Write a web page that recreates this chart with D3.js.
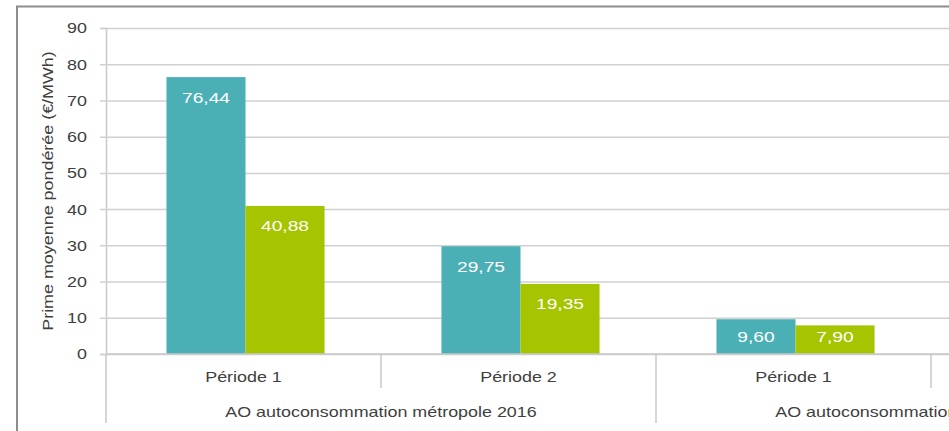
<!DOCTYPE html>
<html>
<head>
<meta charset="utf-8">
<script src="https://cdn.jsdelivr.net/npm/d3@7"></script>
<style>
    body { margin: 0; background: #fff; }
    text { font-family: "Liberation Sans", Arial, sans-serif; fill: #404040; }
</style>
</head>
<body>
<div id="chart"></div>
<script>
// data
const groups = ["AO autoconsommation métropole 2016", "AO autoconsommation métropole 2017"];
const periods = ["Période 1", "Période 2", "Période 1", "Période 2"];
const periodGroup = [0, 0, 1, 1];
const seriesNames = ["Série 1", "Série 2"];
const seriesA = [76.44, 29.75, 9.60, null];
const seriesB = [40.88, 19.35, 7.90, null];
const yTicks = [0, 10, 20, 30, 40, 50, 60, 70, 80, 90];
const colors = ["#4bb0b6", "#a6c400"];

const fmt = d3.format(".2f");
const frNum = v => fmt(v).replace(".", ",");
const stretch = 1.28;   // the source font is wide

let width = 949, height = 431;
let margin = { left: 106, top: 28, bottom: 77 };
let plotBottom = height - margin.bottom;

let svg = d3.select("#chart")
    .append("svg")
    .attr("width", width)
    .attr("height", height);

// outer frame (cropped)
svg.append("path")
    .attr("d", `M17,${height} L17,6.5 L${width},6.5`)
    .attr("fill", "none")
    .attr("stroke", "#8c8c8c")
    .attr("stroke-width", 2);

// scales
let idx = d3.range(periods.length);
let xScale = d3.scaleBand()
    .domain(idx)
    .range([margin.left, margin.left + 275 * periods.length])
    .padding(0);
let xInner = d3.scaleBand()
    .domain([0, 1])
    .range([0, xScale.bandwidth()])
    .paddingInner(0)
    .paddingOuter(0.74);
let yScale = d3.scaleLinear()
    .domain([0, 90])
    .range([plotBottom, margin.top]);

// grid + y axis
let yAxis = svg.append("g")
    .attr("transform", `translate(${margin.left},0)`)
    .call(d3.axisLeft(yScale).tickValues(yTicks).tickSize(6).tickFormat(d3.format("d")));
yAxis.select(".domain").attr("stroke", "#c8c8c8").attr("stroke-width", 1.5);
yAxis.selectAll(".tick line")
    .attr("x1", -6)
    .attr("x2", width)
    .attr("stroke", "#d0d0d0")
    .attr("stroke-width", 1.5);
yAxis.selectAll(".tick text")
    .attr("x", 0)
    .attr("dy", "0.35em")
    .attr("font-size", "14px")
    .attr("fill", "#404040")
    .attr("text-anchor", "end")
    .attr("transform", `translate(-19,0) scale(${stretch},1)`);

// y title
svg.append("text")
    .attr("text-anchor", "middle")
    .attr("font-size", "14px")
    .attr("transform", `translate(53,191) rotate(-90) scale(${stretch},1)`)
    .text("Prime moyenne pondérée (€/MWh)");

// bars
let barData = [];
idx.forEach(i => {
    [seriesA[i], seriesB[i]].forEach((v, s) => {
        if (v !== null) barData.push({ i: i, s: s, v: v });
    });
});

svg.selectAll("rect.bar")
    .data(barData)
    .enter()
    .append("rect")
    .attr("class", "bar")
    .attr("x", d => xScale(d.i) + xInner(d.s) + 2)
    .attr("width", xInner.bandwidth())
    .attr("y", d => yScale(d.v))
    .attr("height", d => plotBottom - yScale(d.v))
    .attr("fill", d => colors[d.s]);

svg.selectAll("text.val")
    .data(barData)
    .enter()
    .append("text")
    .attr("class", "val")
    .attr("text-anchor", "middle")
    .attr("font-size", "15px")
    .style("fill", "#fff")
    .attr("transform", d => {
        let cx = xScale(d.i) + xInner(d.s) + 2 + xInner.bandwidth() / 2;
        let cy = Math.min(yScale(d.v) + 20, plotBottom - 18);
        return `translate(${cx},${cy + 5.5}) scale(${stretch},1)`;
    })
    .text(d => frNum(d.v));

// x axis line
svg.append("line")
    .attr("x1", margin.left)
    .attr("x2", width)
    .attr("y1", plotBottom)
    .attr("y2", plotBottom)
    .attr("stroke", "#c8c8c8")
    .attr("stroke-width", 1.5);

// category separators: short between periods, long between groups
idx.concat([periods.length]).forEach(i => {
    let x = i < periods.length ? xScale(i) : xScale.range()[1];
    let isGroupEdge = i === 0 || i === periods.length || periodGroup[i] !== periodGroup[i - 1];
    svg.append("line")
        .attr("x1", x).attr("x2", x)
        .attr("y1", plotBottom)
        .attr("y2", isGroupEdge ? 423 : 388)
        .attr("stroke", "#c8c8c8")
        .attr("stroke-width", 1.5);
});

// period labels (the last one lies beyond the cropped edge)
svg.selectAll("text.period")
    .data(idx.filter(i => xScale(i) + xScale.bandwidth() / 2 < width))
    .enter()
    .append("text")
    .attr("class", "period")
    .attr("text-anchor", "middle")
    .attr("font-size", "14px")
    .attr("transform", i => `translate(${xScale(i) + xScale.bandwidth() / 2},382) scale(${stretch},1)`)
    .text(i => periods[i]);

// group labels
svg.selectAll("text.group")
    .data(groups)
    .enter()
    .append("text")
    .attr("class", "group")
    .attr("text-anchor", "middle")
    .attr("font-size", "14px")
    .attr("transform", (g, gi) => {
        let members = idx.filter(i => periodGroup[i] === gi);
        let x0 = xScale(members[0]);
        let x1 = xScale(members[members.length - 1]) + xScale.bandwidth();
        return `translate(${(x0 + x1) / 2},417) scale(${stretch},1)`;
    })
    .text(g => g);
</script>
</body>
</html>
